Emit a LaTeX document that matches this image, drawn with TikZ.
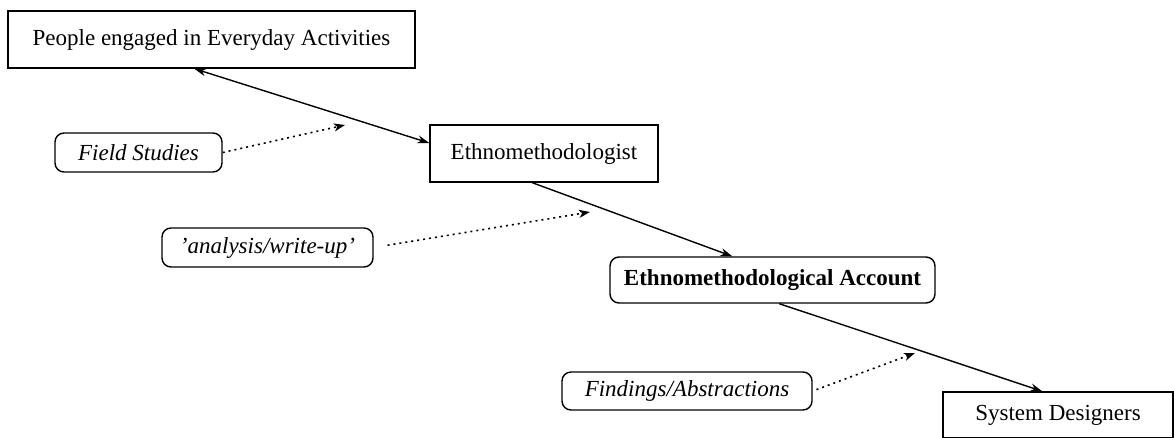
\documentclass[tikz,border=0pt]{standalone}
\usepackage{fontspec}
\setmainfont{Liberation Serif}
\usetikzlibrary{arrows.meta,calc}

\begin{document}
\begin{tikzpicture}[x=1pt,y=-1pt,
  every node/.style={font=\fontsize{23}{27}\selectfont},
  box/.style={draw,line width=1.4pt,inner sep=0pt,anchor=center},
  sqbox/.style={box,rectangle},
  rbox/.style={box,rounded corners=9pt},
  flow/.style={line width=1.4pt,-{Stealth[length=12pt,width=8pt,inset=4pt]}},
  bothflow/.style={line width=1.4pt,{Stealth[length=12pt,width=8pt,inset=4pt]}-{Stealth[length=12pt,width=8pt,inset=4pt]}},
  hint/.style={line width=1.6pt,dash pattern=on 2pt off 4pt,-{Stealth[length=11pt,width=8pt,inset=3pt]}}
]
\useasboundingbox (0,0) rectangle (1174,437);

% main chain of boxes
\node[sqbox,minimum width=407pt,minimum height=57pt] (people) at (211.5,39.5) {People engaged in Everyday Activities};
\node[sqbox,minimum width=228pt,minimum height=57pt] (ethno) at (544,153.5) {Ethnomethodologist};
\node[rbox,minimum width=325pt,minimum height=46pt,font=\fontsize{23}{27}\selectfont\bfseries] (account) at (772.5,280) {Ethnomethodological Account};
\node[sqbox,minimum width=230pt,minimum height=46pt] (designers) at (1058,415) {System Designers};

% activity labels
\node[rbox,minimum width=167pt,minimum height=39pt,font=\fontsize{23}{27}\selectfont\itshape] (field) at (138.5,152.5) {Field Studies};
\node[rbox,minimum width=211pt,minimum height=39pt,font=\fontsize{23}{27}\selectfont\itshape] (analysis) at (267.5,247.5) {\char"0027analysis/write-up\char"0027};
\node[rbox,minimum width=250pt,minimum height=38pt,font=\fontsize{23}{27}\selectfont\itshape] (findings) at (687,391) {Findings/Abstractions};

% points that the label arrows aim at
\coordinate (fieldtip) at (345,125);
\coordinate (analysistip) at (590,212);
\coordinate (findingstip) at (915,353);

% connectors between the boxes
\draw[bothflow] ([xshift=187pt]people.south west) -- ([yshift=10.5pt]ethno.west);
\draw[flow] ([xshift=103pt]ethno.south west) -- ([xshift=123pt]account.north west);
\draw[flow] ([xshift=170pt]account.south west) -- ([xshift=100pt]designers.north west);

% dotted label arrows
\draw[hint] (field.east) -- (fieldtip);
\draw[hint,shorten <=14pt] (analysis.east) -- (analysistip);
\draw[hint,shorten <=4pt] (findings.east) -- (findingstip);
\end{tikzpicture}
\end{document}
